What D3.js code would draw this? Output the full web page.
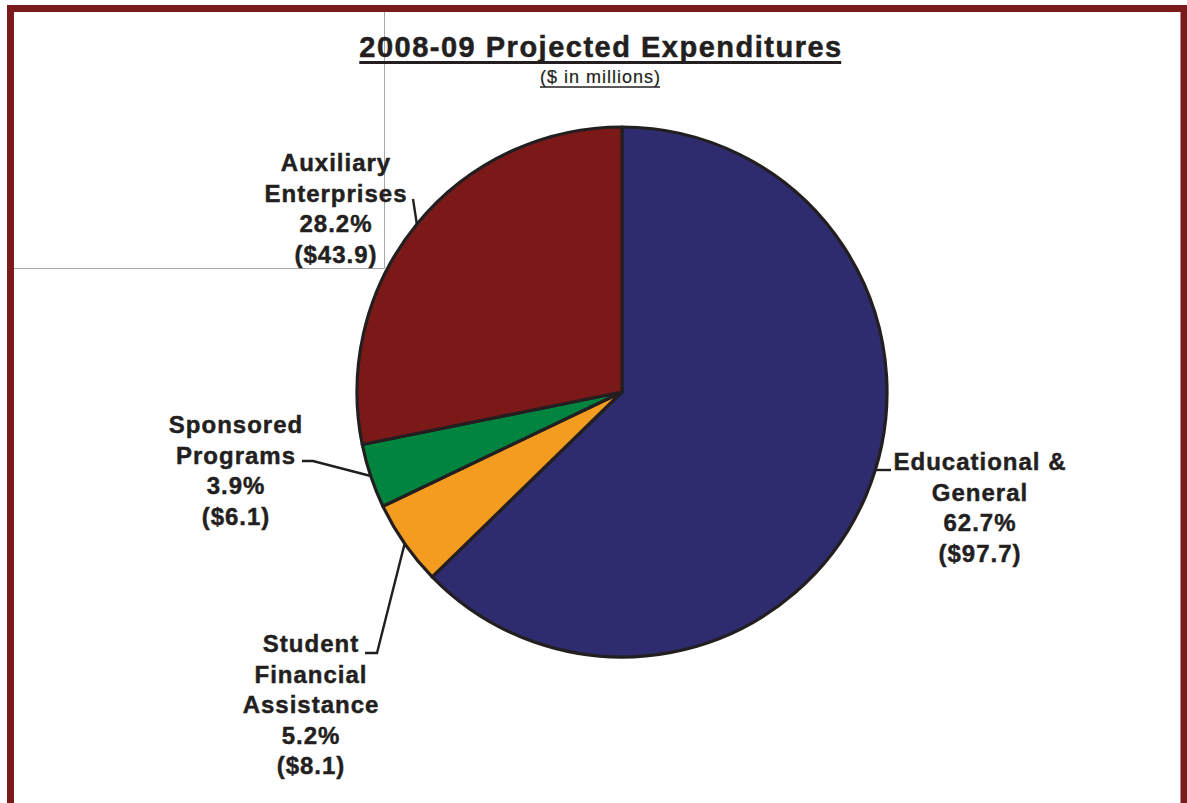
<!DOCTYPE html>
<html>
<head>
<meta charset="utf-8">
<script src="https://cdn.jsdelivr.net/npm/d3@7/dist/d3.min.js"></script>
<style>
  html, body { margin: 0; padding: 0; background: #ffffff; }
  svg { display: block; }
  text { font-family: "Liberation Sans", Arial, sans-serif; fill: #231F20; }
</style>
</head>
<body>
<svg id="chart" width="1187" height="803"></svg>
<script>
// Expenditure categories, clockwise from 12 o'clock
const categories = ["Educational & General", "Student Financial Assistance", "Sponsored Programs", "Auxiliary Enterprises"];
const labelLines = [["Educational &", "General"], ["Student", "Financial", "Assistance"], ["Sponsored", "Programs"], ["Auxiliary", "Enterprises"]];
// $ in millions
const amounts = [97.7, 8.1, 6.1, 43.9];
const sliceColors = ["#2E2B6F", "#F49C20", "#00843F", "#7B1919"];
const titleText = "2008-09 Projected Expenditures";
const subtitleText = "($ in millions)";

const svg = d3.select("#chart");
const W = 1187, H = 803;
const ink = "#231F20";
const frame = "#7B1A1A";

// frame (open at the bottom)
svg.append("path")
  .attr("d", `M10.5,${H} L10.5,8.5 L1184,8.5 L1184,${H}`)
  .attr("fill", "none").attr("stroke", frame).attr("stroke-width", 7);

// thin grey guide lines in the upper-left corner
svg.append("line").attr("x1", 384.5).attr("y1", 12).attr("x2", 384.5).attr("y2", 268.5)
  .attr("stroke", "#A8A8A8").attr("stroke-width", 1);
svg.append("line").attr("x1", 14).attr("y1", 268.5).attr("x2", 384.5).attr("y2", 268.5)
  .attr("stroke", "#A8A8A8").attr("stroke-width", 1);

// title + subtitle, each underlined
function underlined(text, x, y, size, weight, spacing, gap, thick, heavy) {
  const t = svg.append("text").attr("x", x).attr("y", y)
    .attr("text-anchor", "middle").attr("font-size", size).attr("font-weight", weight)
    .attr("letter-spacing", spacing)
    .attr("stroke", ink).attr("stroke-width", heavy)
    .text(text);
  const bb = t.node().getBBox();
  svg.append("line").attr("x1", bb.x).attr("x2", bb.x + bb.width - spacing)
    .attr("y1", y + gap).attr("y2", y + gap).attr("stroke", ink).attr("stroke-width", thick);
}
underlined(titleText, 601, 57, 29, "bold", 1.5, 5.5, 3, 0.5);
underlined(subtitleText, 600.5, 83, 18, "normal", 1.0, 4, 1.6, 0.2);

// pie
const cx = 622, cy = 392, R = 265;
const total = d3.sum(amounts);
const pie = d3.pie().sort(null).value(d => d);
const arcs = pie(amounts);
const arc = d3.arc().innerRadius(0).outerRadius(R);

const g = svg.append("g").attr("transform", `translate(${cx},${cy})`);
g.selectAll("path.slice").data(arcs).enter().append("path")
  .attr("class", "slice")
  .attr("d", arc)
  .attr("fill", (d, i) => sliceColors[i])
  .attr("stroke", ink).attr("stroke-width", 3.2).attr("stroke-linejoin", "round");

// label blocks: anchor x, first baseline y
const labelPos = [
  { x: 980, y: 470 },
  { x: 311, y: 652 },
  { x: 236, y: 433 },
  { x: 336, y: 171 }
];
const lineH = 30.5;
const pctFmt = d3.format(".1f");

arcs.forEach((a, i) => {
  const lines = labelLines[i].concat([
    pctFmt(a.value / total * 100) + "%",
    "($" + pctFmt(a.value) + ")"
  ]);
  const t = svg.append("text").attr("text-anchor", "middle")
    .attr("font-size", 24).attr("font-weight", "bold").attr("letter-spacing", 1.0)
    .attr("stroke", ink).attr("stroke-width", 0.45);
  lines.forEach((ln, k) => {
    t.append("tspan").attr("x", labelPos[i].x).attr("y", labelPos[i].y + k * lineH).text(ln);
  });
});

// leader lines from the pie edge to the labels
function edgePoint(angle) {
  return [cx + R * Math.sin(angle), cy - R * Math.cos(angle)];
}
const mid = a => (a.startAngle + a.endAngle) / 2;
// Educational & General joins the pie edge level with its first line
const eduAngle = Math.PI - Math.asin(Math.sqrt(R * R - (labelPos[0].y - cy) ** 2) / R);
const leaders = [
  [edgePoint(eduAngle), [891, labelPos[0].y]],
  [edgePoint(mid(arcs[1])), [377, labelPos[1].y + 1], [365, labelPos[1].y + 1]],
  [edgePoint(mid(arcs[2])), [313, 461], [302, 461]],
  [edgePoint(mid(arcs[3])), [413, 199]]
];
const line = d3.line();
leaders.forEach(pts => {
  svg.append("path").attr("d", line(pts)).attr("fill", "none")
    .attr("stroke", ink).attr("stroke-width", 2.4);
});
</script>
</body>
</html>
